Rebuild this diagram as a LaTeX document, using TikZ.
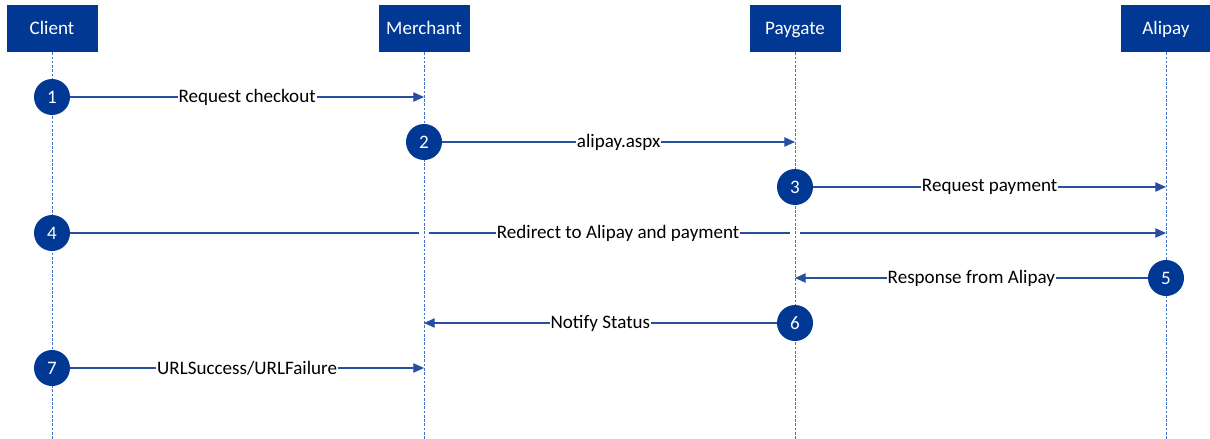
\documentclass[tikz,border=0pt]{standalone}
\usepackage{fontspec}
\setmainfont{Carlito}
\usetikzlibrary{arrows.meta,backgrounds}
\definecolor{boxblue}{RGB}{0,56,147}
\definecolor{lineblue}{RGB}{40,78,162}
\definecolor{lifeblue}{RGB}{68,114,196}

\begin{document}
\begin{tikzpicture}[x=0.75pt,y=-0.75pt,>={Triangle[length=8pt,width=7pt]},font=\fontsize{14.3}{17}\selectfont]
        \tikzstyle{actor}=[rectangle,fill=boxblue,text=white,minimum width=68.25pt,minimum height=35.25pt,text height=11pt,text depth=2pt]
        \tikzstyle{stepno}=[circle,fill=boxblue,text=white,minimum size=27pt,inner sep=0pt]
        \tikzstyle{msg}=[->,draw=lineblue,fill=lineblue,line width=0.9pt]
        \tikzstyle{life}=[draw=lifeblue,line width=0.7pt,dash pattern=on 2pt off 1.2pt]
        \tikzstyle{lbl}=[fill=white,inner sep=0.8pt,text=black]
        \useasboundingbox (0,0) rectangle (1210,439);
        % participants
        \node[actor] (client) at (52,28.5) {Client};
        \node[actor] (merchant) at (424,28.5) {Merchant};
        \node[actor] (paygate) at (795,28.5) {Paygate};
        \node[actor] (alipay) at (1166,28.5) {Alipay};
        % steps
        \node[stepno] (s1) at (52,97) {1};
        \node[stepno] (s2) at (424,142) {2};
        \node[stepno] (s3) at (795,187) {3};
        \node[stepno] (s4) at (52,233) {4};
        \node[stepno] (s5) at (1166,278) {5};
        \node[stepno] (s6) at (795,323) {6};
        \node[stepno] (s7) at (52,368) {7};
        \coordinate (x4m) at (s4 -| merchant);
        \coordinate (x4p) at (s4 -| paygate);
        \begin{scope}[on background layer]
        \draw[msg] (s4) -- node[lbl]{Redirect to Alipay and payment} (s4 -| alipay);
        \draw[white,line width=2pt] ([xshift=-3.5pt]x4m) -- ([xshift=3.5pt]x4m);
        \draw[white,line width=2pt] ([xshift=-3.5pt]x4p) -- ([xshift=3.5pt]x4p);
        \foreach \p in {client,merchant,paygate,alipay}
            \draw[life] (\p.south) -- (\p.south |- 0,439);
        \end{scope}
        % messages
        \draw[msg] (s1) -- node[lbl]{Request checkout} (s1 -| merchant);
        \draw[msg] (s2) -- node[lbl]{alipay.aspx} (s2 -| paygate);
        \draw[msg] (s3) -- node[lbl]{Request payment} (s3 -| alipay);
        \draw[msg] (s5) -- node[lbl]{Response from Alipay} (s5 -| paygate);
        \draw[msg] (s6) -- node[lbl]{Notify Status} (s6 -| merchant);
        \draw[msg] (s7) -- node[lbl]{URLSuccess/URLFailure} (s7 -| merchant);
\end{tikzpicture}
\end{document}
